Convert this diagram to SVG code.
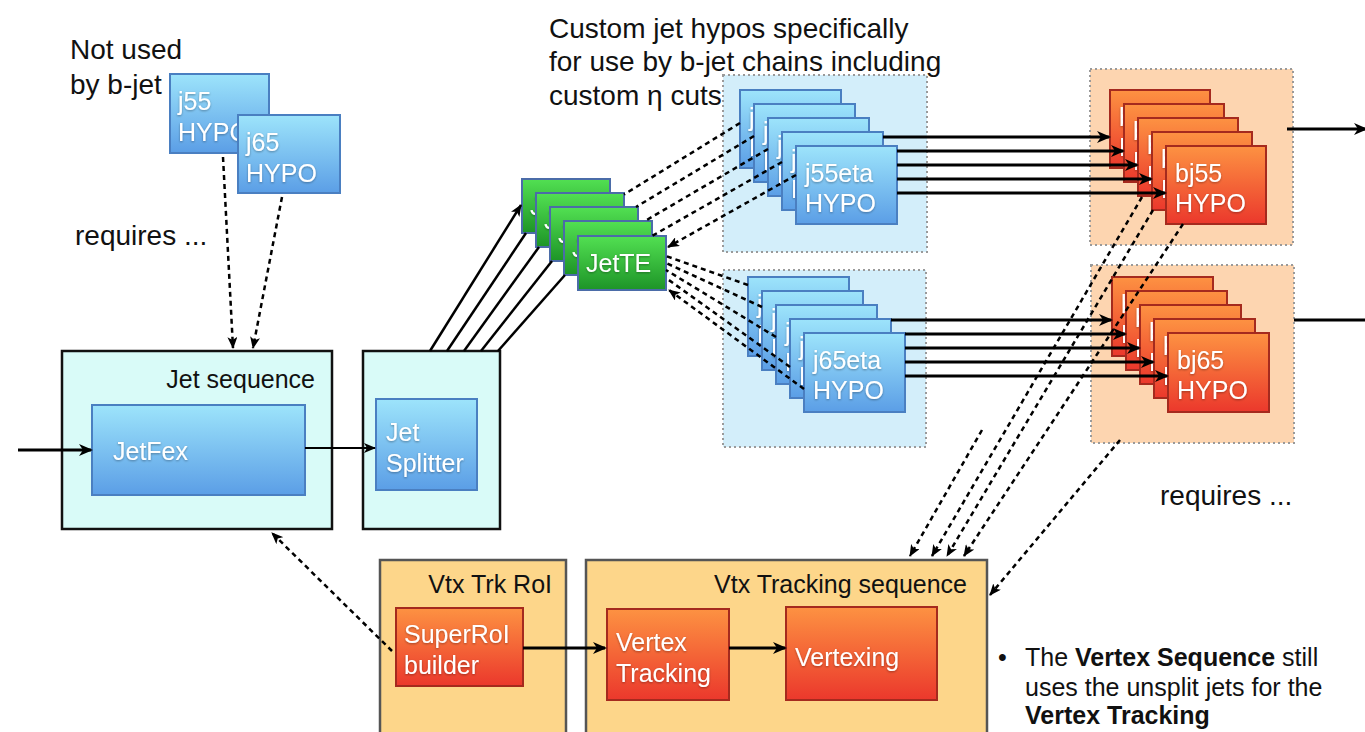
<svg xmlns="http://www.w3.org/2000/svg" width="1365" height="732" viewBox="0 0 1365 732">
  <defs>
    <linearGradient id="gBlue" x1="0" y1="0" x2="0" y2="1">
      <stop offset="0" stop-color="#9de4fb"/>
      <stop offset="1" stop-color="#5b9ee6"/>
    </linearGradient>
    <linearGradient id="gGreen" x1="0" y1="0" x2="0" y2="1">
      <stop offset="0" stop-color="#52e052"/>
      <stop offset="1" stop-color="#1d9427"/>
    </linearGradient>
    <linearGradient id="gRed" x1="0" y1="0" x2="0" y2="1">
      <stop offset="0" stop-color="#fd9242"/>
      <stop offset="1" stop-color="#eb382c"/>
    </linearGradient>
    <filter id="ts" x="-10%" y="-20%" width="120%" height="150%">
      <feDropShadow dx="0" dy="1" stdDeviation="0.8" flood-color="#000" flood-opacity="0.35"/>
    </filter>
    <marker id="arr" viewBox="0 0 14 12" refX="12" refY="6" markerWidth="14" markerHeight="12" markerUnits="userSpaceOnUse" orient="auto">
      <path d="M0,0 L14,6 L0,12 L4,6 z" fill="#000"/>
    </marker>
    <marker id="arrS" viewBox="0 0 12 10" refX="11" refY="5" markerWidth="12" markerHeight="10" markerUnits="userSpaceOnUse" orient="auto">
      <path d="M0,0 L12,5 L0,10 L3,5 z" fill="#000"/>
    </marker>
    <style>
      text { font-family: "Liberation Sans", Arial, sans-serif; }
      .lbl { font-size: 28px; fill: #111; }
      .note { font-size: 25px; fill: #111; }
      .cl { font-size: 25px; fill: #111; text-anchor: end; }
      .bt { font-size: 25px; fill: #fff; filter: url(#ts); }
      .blue { fill: url(#gBlue); stroke: #4a7fc1; stroke-width: 2; }
      .green { fill: url(#gGreen); stroke: #4b6ca8; stroke-width: 2; }
      .red { fill: url(#gRed); stroke: #a52a1e; stroke-width: 2; }
      .cyanC { fill: #d9fbf8; stroke: #111; stroke-width: 2.5; }
      .blueC { fill: #d3eefa; stroke: #9a9a9a; stroke-width: 2; stroke-dasharray: 2 3; }
      .peachC { fill: #fdd5b0; stroke: #9a9a9a; stroke-width: 2; stroke-dasharray: 2 3; }
      .vtxC { fill: #fdd68a; stroke: #555; stroke-width: 2.5; }
      .solid { stroke: #000; stroke-width: 3.2; fill: none; }
      .thin { stroke: #000; stroke-width: 2.5; fill: none; }
      .fine { stroke: #000; stroke-width: 2; fill: none; }
      .dash { stroke: #000; stroke-width: 2.5; stroke-dasharray: 5 4; fill: none; }
    </style>
  </defs>

  <!-- free-standing labels -->
  <text class="lbl" x="70" y="59">Not used</text>
  <text class="lbl" x="70" y="94">by b-jet</text>
  <text class="lbl" x="75" y="245">requires ...</text>
  <text class="lbl" x="549" y="38">Custom jet hypos specifically</text>
  <text class="lbl" x="549" y="71">for use by b-jet chains including</text>
  <text class="lbl" x="549" y="105">custom η cuts</text>
  <text class="lbl" x="1160" y="505">requires ...</text>

  <!-- jet hypos not used by b-jet -->
  <g id="j55-hypo">
    <rect class="blue" x="170" y="74" width="99" height="79"/>
    <text class="bt" x="178" y="110">j55</text>
    <text class="bt" x="178" y="141">HYPO</text>
  </g>
  <g id="j65-hypo">
    <rect class="blue" x="238" y="115" width="102" height="78"/>
    <text class="bt" x="246" y="151">j65</text>
    <text class="bt" x="246" y="182">HYPO</text>
  </g>

  <!-- jet sequence -->
  <g id="jet-sequence">
    <rect class="cyanC" x="62" y="351" width="270" height="178"/>
    <text class="cl" x="315" y="388">Jet sequence</text>
  </g>
  <g id="jetfex">
    <rect class="blue" x="92" y="405" width="213" height="90"/>
    <text class="bt" x="113" y="460">JetFex</text>
  </g>
  <g id="jet-splitter-seq">
    <rect class="cyanC" x="363" y="351" width="137" height="178"/>
  </g>
  <g id="jet-splitter">
    <rect class="blue" x="376" y="399" width="101" height="91"/>
    <text class="bt" x="386" y="441">Jet</text>
    <text class="bt" x="386" y="472">Splitter</text>
  </g>

  <!-- split jet trigger elements (stacked copies, only the front one fully visible) -->
  <g id="jette-stack">
    <g id="jette-1"><rect class="green" x="522" y="179" width="88" height="54"/><text class="bt" x="530" y="215">J</text></g>
    <g id="jette-2"><rect class="green" x="536" y="193" width="88" height="54"/><text class="bt" x="544" y="229">J</text></g>
    <g id="jette-3"><rect class="green" x="550" y="207" width="88" height="54"/><text class="bt" x="558" y="243">J</text></g>
    <g id="jette-4"><rect class="green" x="564" y="221" width="88" height="54"/><text class="bt" x="572" y="257">J</text></g>
    <g id="jette-5"><rect class="green" x="578" y="236" width="88" height="54"/><text class="bt" x="586" y="272">JetTE</text></g>
  </g>

  <!-- custom eta hypos -->
  <g id="j55eta-group">
    <rect class="blueC" x="723" y="75" width="204" height="177"/>
    <g id="j55eta-1"><rect class="blue" x="740" y="90" width="101" height="78"/><text class="bt" x="749" y="126">j</text><text class="bt" x="749" y="156">H</text></g>
    <g id="j55eta-2"><rect class="blue" x="754" y="104" width="101" height="78"/><text class="bt" x="763" y="140">j</text><text class="bt" x="763" y="170">H</text></g>
    <g id="j55eta-3"><rect class="blue" x="768" y="118" width="101" height="78"/><text class="bt" x="777" y="154">j</text><text class="bt" x="777" y="184">H</text></g>
    <g id="j55eta-4"><rect class="blue" x="782" y="132" width="101" height="78"/><text class="bt" x="791" y="168">j</text><text class="bt" x="791" y="198">H</text></g>
    <g id="j55eta-5"><rect class="blue" x="796" y="146" width="101" height="78"/><text class="bt" x="805" y="182">j55eta</text><text class="bt" x="805" y="212">HYPO</text></g>
  </g>
  <g id="j65eta-group">
    <rect class="blueC" x="723" y="270" width="203" height="177"/>
    <g id="j65eta-1"><rect class="blue" x="748" y="277" width="101" height="79"/><text class="bt" x="757" y="313">j</text><text class="bt" x="757" y="343">H</text></g>
    <g id="j65eta-2"><rect class="blue" x="762" y="291" width="101" height="79"/><text class="bt" x="771" y="327">j</text><text class="bt" x="771" y="357">H</text></g>
    <g id="j65eta-3"><rect class="blue" x="776" y="305" width="101" height="79"/><text class="bt" x="785" y="341">j</text><text class="bt" x="785" y="371">H</text></g>
    <g id="j65eta-4"><rect class="blue" x="790" y="319" width="101" height="79"/><text class="bt" x="799" y="355">j</text><text class="bt" x="799" y="385">H</text></g>
    <g id="j65eta-5"><rect class="blue" x="804" y="333" width="101" height="79"/><text class="bt" x="813" y="369">j65eta</text><text class="bt" x="813" y="399">HYPO</text></g>
  </g>

  <!-- b-jet hypos -->
  <g id="bj55-group">
    <rect class="peachC" x="1090" y="69" width="203" height="176"/>
    <g id="bj55-1"><rect class="red" x="1110" y="90" width="100" height="78"/><text class="bt" x="1119" y="126">b</text><text class="bt" x="1119" y="156">H</text></g>
    <g id="bj55-2"><rect class="red" x="1124" y="104" width="100" height="78"/><text class="bt" x="1133" y="140">b</text><text class="bt" x="1133" y="170">H</text></g>
    <g id="bj55-3"><rect class="red" x="1138" y="118" width="100" height="78"/><text class="bt" x="1147" y="154">b</text><text class="bt" x="1147" y="184">H</text></g>
    <g id="bj55-4"><rect class="red" x="1152" y="132" width="100" height="78"/><text class="bt" x="1161" y="168">b</text><text class="bt" x="1161" y="198">H</text></g>
    <g id="bj55-5"><rect class="red" x="1166" y="146" width="100" height="78"/><text class="bt" x="1175" y="182">bj55</text><text class="bt" x="1175" y="212">HYPO</text></g>
  </g>
  <g id="bj65-group">
    <rect class="peachC" x="1091" y="265" width="203" height="178"/>
    <g id="bj65-1"><rect class="red" x="1112" y="277" width="101" height="79"/><text class="bt" x="1121" y="313">b</text><text class="bt" x="1121" y="343">H</text></g>
    <g id="bj65-2"><rect class="red" x="1126" y="291" width="101" height="79"/><text class="bt" x="1135" y="327">b</text><text class="bt" x="1135" y="357">H</text></g>
    <g id="bj65-3"><rect class="red" x="1140" y="305" width="101" height="79"/><text class="bt" x="1149" y="341">b</text><text class="bt" x="1149" y="371">H</text></g>
    <g id="bj65-4"><rect class="red" x="1154" y="319" width="101" height="79"/><text class="bt" x="1163" y="355">b</text><text class="bt" x="1163" y="385">H</text></g>
    <g id="bj65-5"><rect class="red" x="1168" y="333" width="101" height="79"/><text class="bt" x="1177" y="369">bj65</text><text class="bt" x="1177" y="399">HYPO</text></g>
  </g>

  <!-- vertex tracking part -->
  <g id="vtx-trk-roi">
    <rect class="vtxC" x="380" y="560" width="186" height="190"/>
    <text class="cl" x="552" y="593">Vtx Trk RoI</text>
  </g>
  <g id="superroi-builder">
    <rect class="red" x="396" y="608" width="127" height="78"/>
    <text class="bt" x="404" y="643">SuperRoI</text>
    <text class="bt" x="404" y="674">builder</text>
  </g>
  <g id="vtx-tracking-sequence">
    <rect class="vtxC" x="586" y="560" width="401" height="190"/>
    <text class="cl" x="967" y="593">Vtx Tracking sequence</text>
  </g>
  <g id="vertex-tracking">
    <rect class="red" x="607" y="609" width="122" height="91"/>
    <text class="bt" x="616" y="651">Vertex</text>
    <text class="bt" x="616" y="682">Tracking</text>
  </g>
  <g id="vertexing">
    <rect class="red" x="786" y="607" width="151" height="93"/>
    <text class="bt" x="795" y="666">Vertexing</text>
  </g>

  <!-- note -->
  <g id="note">
    <text class="note" x="998" y="666">•</text>
    <text class="note" x="1025" y="666">The <tspan font-weight="bold">Vertex Sequence</tspan> still</text>
    <text class="note" x="1025" y="696">uses the unsplit jets for the</text>
    <text class="note" x="1025" y="724" font-weight="bold">Vertex Tracking</text>
  </g>

  <!-- connectors -->
  <g id="connectors">
    <!-- input and jet sequence -->
    <line class="solid" x1="18" y1="450" x2="91" y2="450" marker-end="url(#arr)"/>
    <line class="fine" x1="305" y1="448" x2="375" y2="448" marker-end="url(#arrS)"/>
    <line class="dash" x1="223" y1="157" x2="233" y2="348" marker-end="url(#arrS)"/>
    <line class="dash" x1="282" y1="197" x2="253" y2="348" marker-end="url(#arrS)"/>

    <!-- splitter to trigger elements -->
    <line class="thin" x1="430" y1="351" x2="521" y2="205" marker-end="url(#arrS)"/>
    <line class="thin" x1="447" y1="351" x2="526" y2="233"/>
    <line class="thin" x1="464" y1="351" x2="539" y2="247"/>
    <line class="thin" x1="481" y1="351" x2="552" y2="261"/>
    <line class="thin" x1="498" y1="351" x2="565" y2="275"/>

    <!-- eta hypos to trigger elements -->
    <line class="dash" x1="740" y1="123" x2="624" y2="194.5"/>
    <line class="dash" x1="754" y1="136" x2="636" y2="207"/>
    <line class="dash" x1="768" y1="149" x2="645" y2="221"/>
    <line class="dash" x1="782" y1="162" x2="652" y2="236"/>
    <line class="dash" x1="796" y1="175" x2="668" y2="247" marker-end="url(#arrS)"/>

    <line class="dash" x1="748" y1="285" x2="666" y2="256"/>
    <line class="dash" x1="762" y1="307" x2="666" y2="263"/>
    <line class="dash" x1="776" y1="337" x2="666" y2="270"/>
    <line class="dash" x1="790" y1="367" x2="666" y2="278"/>
    <line class="dash" x1="804" y1="389" x2="669" y2="290" marker-end="url(#arrS)"/>

    <!-- eta hypos to b-jet hypos -->
    <line class="solid" x1="883" y1="137" x2="1109" y2="137" marker-end="url(#arr)"/>
    <line class="solid" x1="897" y1="151" x2="1123" y2="151" marker-end="url(#arr)"/>
    <line class="solid" x1="897" y1="165" x2="1137" y2="165" marker-end="url(#arr)"/>
    <line class="solid" x1="897" y1="179" x2="1151" y2="179" marker-end="url(#arr)"/>
    <line class="solid" x1="897" y1="193" x2="1165" y2="193" marker-end="url(#arr)"/>

    <line class="solid" x1="891" y1="320" x2="1111" y2="320" marker-end="url(#arr)"/>
    <line class="solid" x1="905" y1="334" x2="1125" y2="334" marker-end="url(#arr)"/>
    <line class="solid" x1="905" y1="348" x2="1139" y2="348" marker-end="url(#arr)"/>
    <line class="solid" x1="905" y1="362" x2="1153" y2="362" marker-end="url(#arr)"/>
    <line class="solid" x1="905" y1="376" x2="1167" y2="376" marker-end="url(#arr)"/>

    <!-- outputs -->
    <line class="solid" x1="1287" y1="129" x2="1366" y2="129" marker-end="url(#arr)"/>
    <line class="solid" x1="1294" y1="320" x2="1365" y2="320"/>

    <!-- b-jet hypos require vertex tracking -->
    <line class="dash" x1="982" y1="430" x2="910" y2="556" marker-end="url(#arrS)"/>
    <line class="dash" x1="1142" y1="197" x2="932" y2="556" marker-end="url(#arrS)"/>
    <line class="dash" x1="1153" y1="210" x2="947" y2="556" marker-end="url(#arrS)"/>
    <line class="dash" x1="1183" y1="224" x2="964" y2="556" marker-end="url(#arrS)"/>
    <line class="dash" x1="1120" y1="440" x2="990" y2="595" marker-end="url(#arrS)"/>

    <!-- vertex chain -->
    <line class="dash" x1="392" y1="651" x2="272" y2="533" marker-end="url(#arrS)"/>
    <line class="solid" x1="523" y1="648" x2="605" y2="648" marker-end="url(#arr)"/>
    <line class="solid" x1="729" y1="648" x2="785" y2="648" marker-end="url(#arr)"/>
  </g>
</svg>
